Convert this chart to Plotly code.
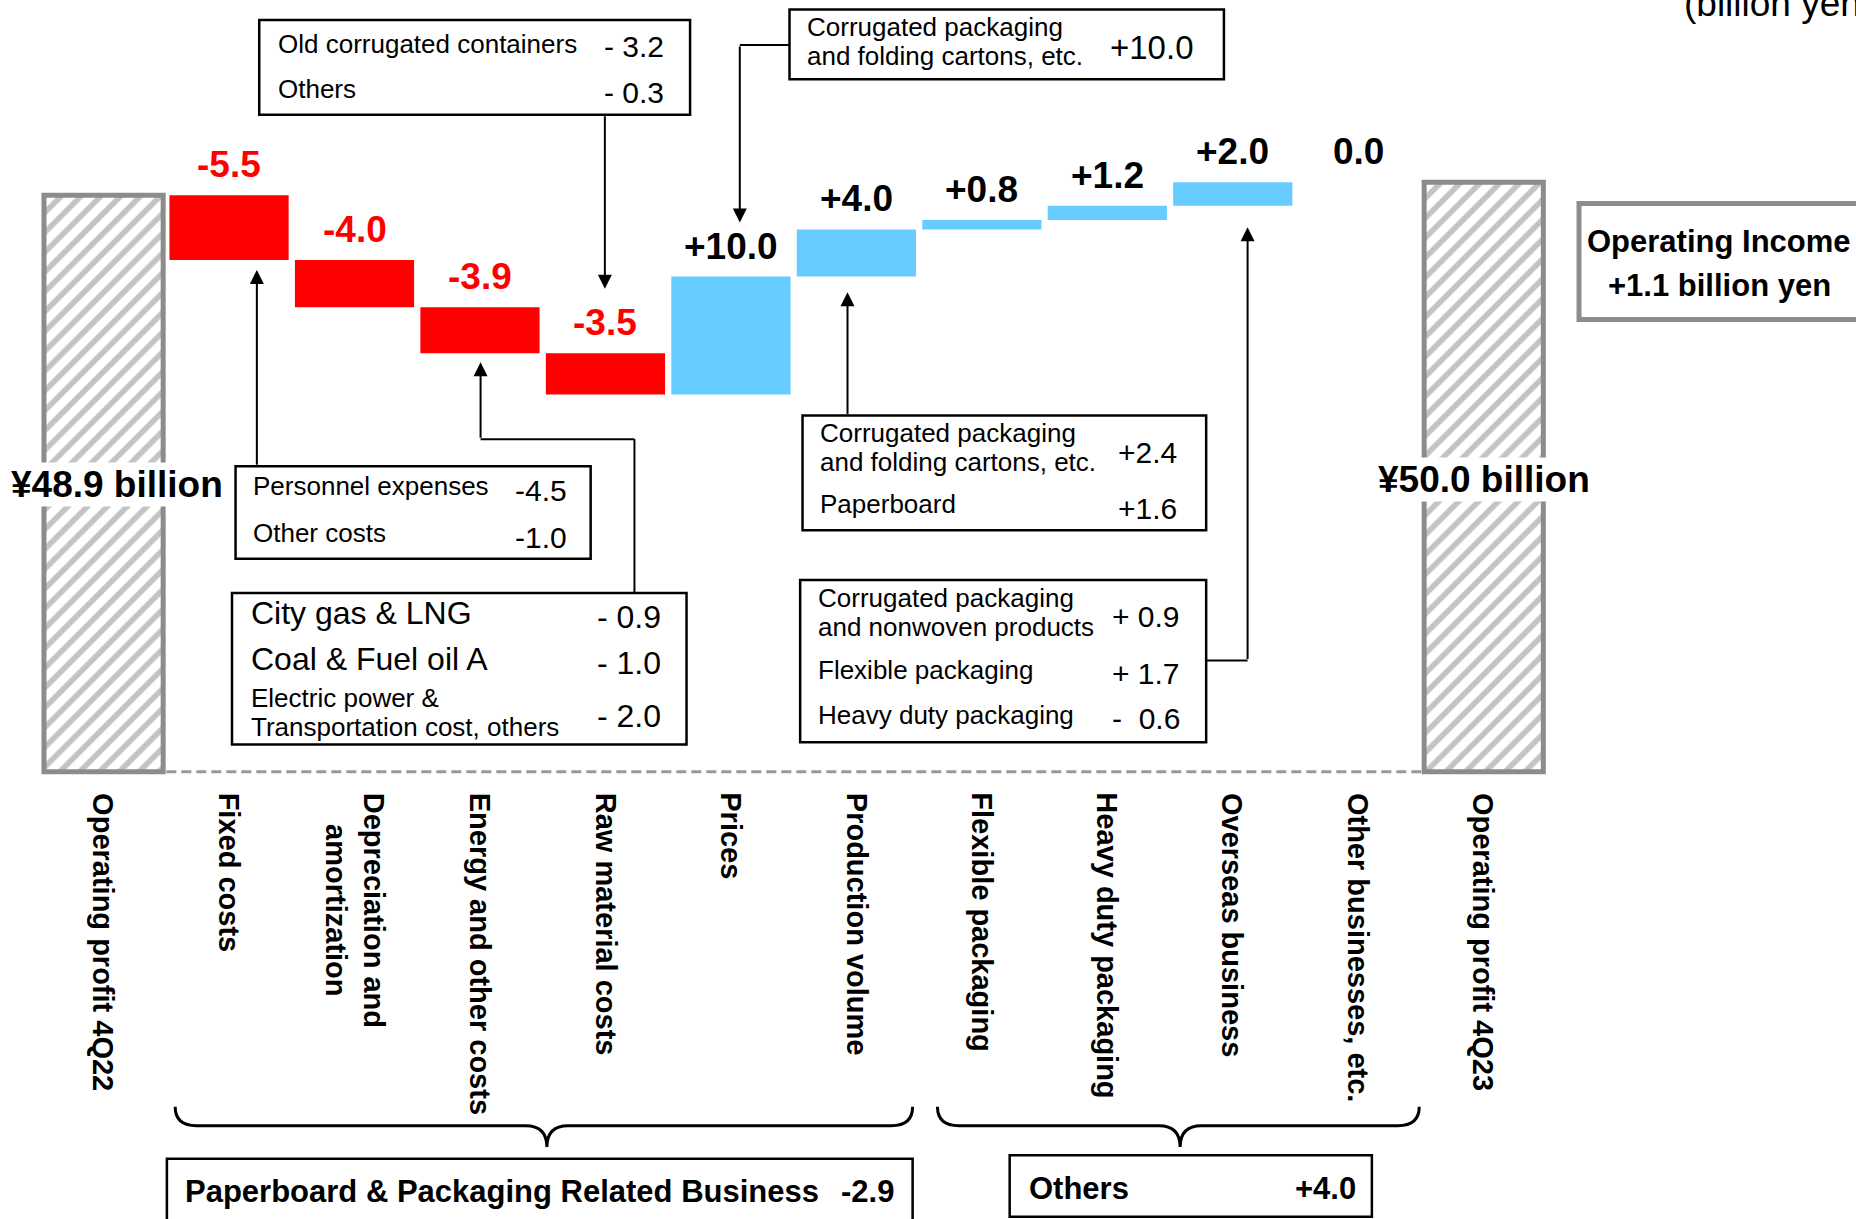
import plotly.graph_objects as go

W, H = 1856, 1219
S = W / 1568.0  # reference measurements were taken on a 1568-wide view

# ---------------- data ----------------
categories = ["Operating profit 4Q22", "Fixed costs", "Depreciation and<br>amortization",
              "Energy and other costs", "Raw material costs", "Prices", "Production volume",
              "Flexible packaging", "Heavy duty packaging", "Overseas business",
              "Other businesses, etc.", "Operating profit 4Q23"]
start_value = 48.9
end_value = 50.0
deltas = [-5.5, -4.0, -3.9, -3.5, 10.0, 4.0, 0.8, 1.2, 2.0, 0.0]
delta_labels = ["-5.5", "-4.0", "-3.9", "-3.5", "+10.0", "+4.0", "+0.8", "+1.2", "+2.0", "0.0"]
total_labels = ["¥48.9 billion", "¥50.0 billion"]

SANS = "Liberation Sans, Arial, sans-serif"
RED, BLUE, GRAY = "#FF0000", "#66CCFF", "#8C8C8C"
BW = 0.95

def fx(xs):
    return xs * S / W

def fy(ys):
    return 1 - ys * S / H

fig = go.Figure()

# totals (hatched)
fig.add_trace(go.Bar(
    x=[0, len(categories) - 1], y=[start_value, end_value], width=BW,
    marker=dict(color="white", line=dict(color=GRAY, width=5),
                pattern=dict(shape="/", fgcolor="#888888", bgcolor="white", size=14, solidity=0.4)),
    hoverinfo="skip"))

# floating deltas
running = start_value
xs, ys, bases, cols, tops = [], [], [], [], []
for i, d in enumerate(deltas):
    xs.append(i + 1)
    ys.append(d)
    bases.append(running)
    cols.append(RED if d < 0 else BLUE)
    tops.append(max(running, running + d))
    running += d
fig.add_trace(go.Bar(x=xs, y=ys, base=bases, width=BW,
                     marker=dict(color=cols, line=dict(width=0)), hoverinfo="skip"))

ann = []
shapes = []

# value labels above bars
for i, lab in enumerate(delta_labels):
    ann.append(dict(x=xs[i], y=tops[i], xref="x", yref="y", text=lab, showarrow=False,
                    yanchor="bottom", xanchor="center", yshift=8,
                    font=dict(family=SANS, size=37, color=RED if deltas[i] < 0 else "black",
                              weight="bold")))

# total labels over hatched bars
for xi, yv, xsh, lab in [(0, 409, 13, total_labels[0]), (len(categories) - 1, 405, 0, total_labels[1])]:
    ann.append(dict(x=xi, y=fy(yv), xref="x", yref="paper", text=lab, showarrow=False,
                    xanchor="center", yanchor="middle", bgcolor="white", borderpad=1, xshift=xsh,
                    font=dict(family=SANS, size=37, color="black", weight="bold")))

# category labels (rotated)
for i, c in enumerate(categories):
    ann.append(dict(x=i, y=fy(668), xref="x", yref="paper", text=c, showarrow=False,
                    textangle=90, xanchor="center", yanchor="top",
                    font=dict(family=SANS, size=29, color="black", weight="bold")))

# dashed baseline
shapes.append(dict(type="line", xref="x", yref="y", x0=0.5, x1=len(categories) - 1.5, y0=0, y1=0,
                   line=dict(color="#999999", width=3, dash="10px,5px")))


def rect(x0, y0, x1, y1, color="black", width=2.5):
    shapes.append(dict(type="rect", xref="paper", yref="paper", x0=fx(x0), x1=fx(x1),
                       y0=fy(y1), y1=fy(y0), line=dict(color=color, width=width),
                       fillcolor="rgba(0,0,0,0)", layer="above"))


def seg(x0, y0, x1, y1):
    shapes.append(dict(type="line", xref="paper", yref="paper", x0=fx(x0), x1=fx(x1),
                       y0=fy(y0), y1=fy(y1), line=dict(color="black", width=2), layer="above"))


def arrow(x, y_tail, y_tip):
    ann.append(dict(x=fx(x), y=fy(y_tip), xref="paper", yref="paper", text="",
                    showarrow=True, ax=0, ay=(y_tail - y_tip) * S, arrowhead=2,
                    arrowsize=1.4, arrowwidth=2, arrowcolor="black", standoff=0, startstandoff=0))


def txt(x, y, s, size=26, anchor="left", bold=False, color="black"):
    ann.append(dict(x=fx(x), y=fy(y), xref="paper", yref="paper", text=s, showarrow=False,
                    xanchor=anchor, yanchor="middle",
                    font=dict(family=SANS, size=size, color=color,
                              weight="bold" if bold else "normal")))


def brace(x1, x2, xm, ytop, ymid, ytip, r=18):
    p = (f"M {fx(x1)},{fy(ytop)} Q {fx(x1)},{fy(ymid)} {fx(x1 + r)},{fy(ymid)} "
         f"L {fx(xm - r)},{fy(ymid)} Q {fx(xm)},{fy(ymid)} {fx(xm)},{fy(ytip)} "
         f"Q {fx(xm)},{fy(ymid)} {fx(xm + r)},{fy(ymid)} L {fx(x2 - r)},{fy(ymid)} "
         f"Q {fx(x2)},{fy(ymid)} {fx(x2)},{fy(ytop)}")
    shapes.append(dict(type="path", xref="paper", yref="paper", path=p,
                       line=dict(color="black", width=3)))


VS = 30  # size of the figures inside the call-out boxes

# Box A: raw materials
rect(219, 17, 583, 97)
txt(233, 37, "Old corrugated containers")
txt(563, 39, "- 3.2", anchor="right", size=VS)
txt(233, 75, "Others")
txt(563, 78, "- 0.3", anchor="right", size=VS)
arrow(511, 97, 244)

# Box B: prices
rect(667, 8, 1034, 67)
txt(680, 23, "Corrugated packaging")
txt(680, 47, "and folding cartons, etc.")
txt(1010, 40, "+10.0", anchor="right", size=33)
seg(667, 38, 625, 38)
arrow(625, 38, 188)

# Box C: fixed costs
rect(199, 394, 499, 472)
txt(212, 411, "Personnel expenses")
txt(481, 414, "-4.5", anchor="right", size=VS)
txt(212, 450, "Other costs")
txt(481, 454, "-1.0", anchor="right", size=VS)
arrow(217, 394, 228)

# Box D: energy
rect(196, 501, 580, 629)
txt(210, 518, "City gas &amp; LNG", size=32)
txt(560, 521, "- 0.9", anchor="right", size=32)
txt(210, 557, "Coal &amp; Fuel oil A", size=32)
txt(560, 560, "- 1.0", anchor="right", size=32)
txt(210, 590, "Electric power &amp;")
txt(210, 614, "Transportation cost, others")
txt(560, 605, "- 2.0", anchor="right", size=32)
seg(536, 501, 536, 371)
seg(536, 371, 406, 371)
arrow(406, 371, 306)

# Box E: production volume
rect(678, 351, 1019, 448)
txt(691, 366, "Corrugated packaging")
txt(691, 390, "and folding cartons, etc.")
txt(996, 382, "+2.4", anchor="right", size=VS)
txt(691, 426, "Paperboard")
txt(996, 430, "+1.6", anchor="right", size=VS)
arrow(716, 351, 247)

# Box F: overseas
rect(676, 490, 1019, 627)
txt(689, 505, "Corrugated packaging")
txt(689, 530, "and nonwoven products")
txt(999, 521, "+ 0.9", anchor="right", size=VS)
txt(689, 566, "Flexible packaging")
txt(999, 569, "+ 1.7", anchor="right", size=VS)
txt(689, 604, "Heavy duty packaging")
txt(999, 607, "-  0.6", anchor="right", size=VS)
seg(1019, 558, 1054, 558)
arrow(1054, 558, 192)

# Box G: operating income
rect(1334, 172, 1585, 270, color="#8C8C8C", width=5)
txt(1452, 204, "Operating Income", size=31, anchor="center", bold=True)
txt(1453, 241, "+1.1 billion yen", size=31, anchor="center", bold=True)

# unit
txt(1421, 3, "(billion yen)", size=37)

# braces and group boxes
brace(148, 771, 462, 935, 951, 969)
brace(792, 1199, 997, 935, 951, 969)
rect(141, 979, 771, 1040)
txt(155, 1007, "Paperboard &amp; Packaging Related Business", size=31, bold=True)
txt(757, 1007, "-2.9", size=31, bold=True, anchor="right")
rect(853, 976, 1159, 1028)
txt(868, 1004, "Others", size=31, bold=True)
txt(1147, 1004, "+4.0", size=31, bold=True, anchor="right")

X0, DX = 87.5 * S, 106.0 * S
Y0, DY = 652 * S, 9.96 * S
fig.update_layout(
    width=W, height=H, margin=dict(l=0, r=0, t=0, b=0),
    paper_bgcolor="white", plot_bgcolor="white", showlegend=False,
    barmode="overlay",
    xaxis=dict(visible=False, range=[-X0 / DX, (W - X0) / DX], fixedrange=True),
    yaxis=dict(visible=False, range=[-(H - Y0) / DY, Y0 / DY], fixedrange=True),
    annotations=ann, shapes=shapes,
)

fig.write_html("out.html")
